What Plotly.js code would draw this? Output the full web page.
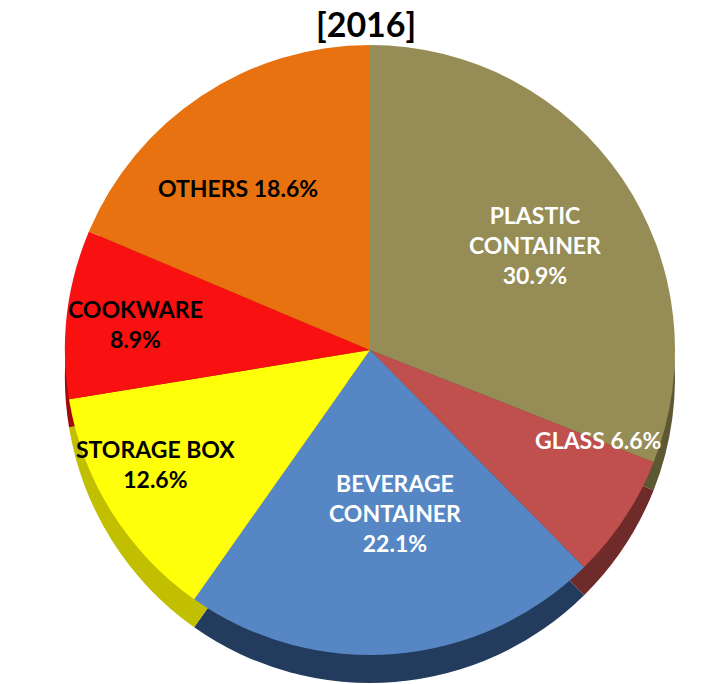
<!DOCTYPE html>
<html>
<head>
<meta charset="utf-8">
<script src="https://cdn.plot.ly/plotly-3.0.1.min.js"></script>
<style>html,body{margin:0;padding:0;background:#fff;}#chart{width:725px;height:684px;}</style>
</head>
<body>
<div id="chart"></div>
<script>
// ---- data ----
var categories = ["PLASTIC CONTAINER", "GLASS", "BEVERAGE CONTAINER", "STORAGE BOX", "COOKWARE", "OTHERS"];
var shares = [30.9, 6.6, 22.1, 12.6, 8.9, 18.6];
var labelLines = ["PLASTIC<br>CONTAINER", "GLASS", "BEVERAGE<br>CONTAINER", "STORAGE BOX", "COOKWARE", "OTHERS"];
var titleText = "[2016]";

// ---- styles ----
var topColors  = ["#968C55", "#C0504D", "#5687C4", "#FFFF0A", "#F91111", "#E8720F"];
var sideColors = ["#5E5733", "#6E2B29", "#233B5C", "#C2BE00", "#A00A0A", "#9A4A08"];
var textColors = ["#FFFFFF", "#FFFFFF", "#FFFFFF", "#000000", "#000000", "#000000"];
var separators = ["<br>", " ", "<br>", "<br>", "<br>", " "];
var labelPos = [[535, 245], [598, 440], [395, 513], [155, 464], [135, 324], [238, 188]]; // pixel positions

var W = 725, H = 684;
var cx = 370, cy = 350, R = 305, depth = 28;

function dom(cxp, cyp, r) {
  return {
    x: [(cxp - r) / W, (cxp + r) / W],
    y: [(H - cyp - r) / H, (H - cyp + r) / H]
  };
}

var sidePie = {
  type: "pie",
  values: shares,
  labels: categories,
  sort: false,
  direction: "clockwise",
  rotation: 0,
  textinfo: "none",
  hoverinfo: "skip",
  showlegend: false,
  marker: {colors: sideColors, line: {width: 0}},
  domain: dom(cx, cy + depth, R)
};

var topPie = {
  type: "pie",
  values: shares,
  labels: categories,
  sort: false,
  direction: "clockwise",
  rotation: 0,
  textinfo: "none",
  hoverinfo: "label+percent",
  showlegend: false,
  marker: {colors: topColors, line: {width: 0}},
  domain: dom(cx, cy, R)
};

var annotations = categories.map(function (c, i) {
  return {
    xref: "paper", yref: "paper",
    x: labelPos[i][0] / W, y: 1 - labelPos[i][1] / H,
    xanchor: "center", yanchor: "middle",
    showarrow: false,
    text: labelLines[i] + separators[i] + shares[i].toFixed(1) + "%",
    font: {family: "Lato, 'Open Sans', sans-serif", size: 23, color: textColors[i], weight: "bold"},
    align: "center"
  };
});

var layout = {
  width: W, height: H,
  margin: {l: 0, r: 0, t: 0, b: 0},
  paper_bgcolor: "#FFFFFF",
  title: {
    text: "<b>" + titleText + "</b>",
    x: 0.505, xanchor: "center",
    y: 1 - 25 / H, yanchor: "middle",
    font: {family: "Lato, 'Open Sans', sans-serif", size: 34, color: "#000000"}
  },
  annotations: annotations
};

Plotly.newPlot("chart", [sidePie, topPie], layout, {displayModeBar: false, staticPlot: true});
</script>
</body>
</html>
